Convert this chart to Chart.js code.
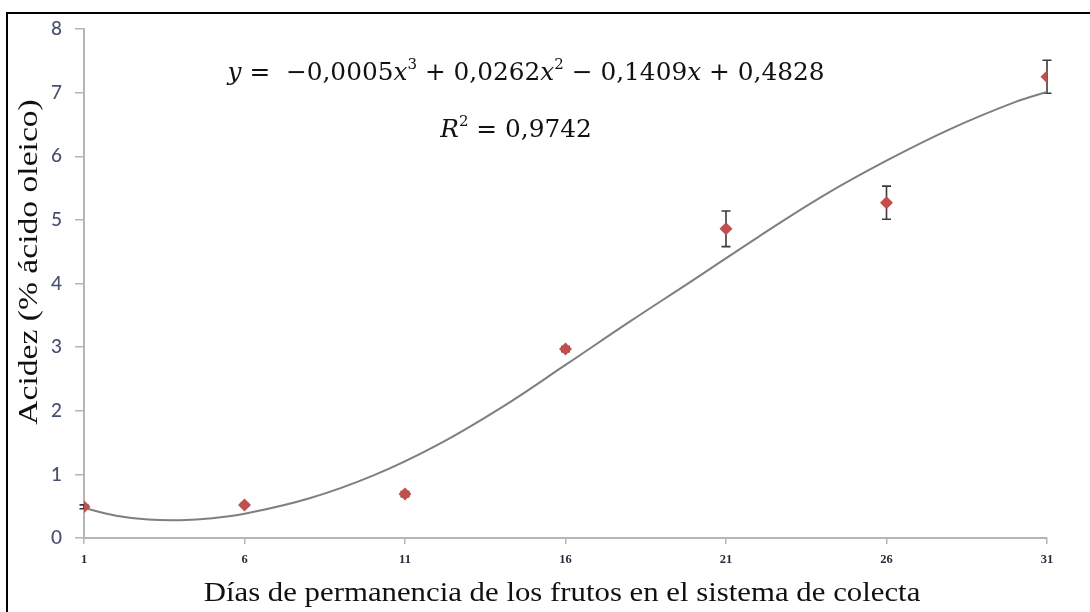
<!DOCTYPE html>
<html>
<head>
<meta charset="utf-8">
<script src="https://cdn.jsdelivr.net/npm/chart.js@4.4.1/dist/chart.umd.min.js"></script>
<style>
  html, body { margin: 0; padding: 0; background: #fff; }
  #wrap { position: relative; width: 1090px; height: 612px; overflow: hidden; }
  #frame { position: absolute; left: 6px; top: 12px; width: 1200px; height: 700px;
           border-left: 2.5px solid #000; border-top: 2.5px solid #000; }
  canvas { position: absolute; left: 0; top: 0; }
  .eq { position: absolute; font-family: "DejaVu Serif", serif; font-size: 24.8px; color: #111;
        white-space: nowrap; transform: translateX(-50%); }
  .eq i { font-style: italic; }
  .eq sup { font-size: 15px; line-height: 0; vertical-align: 11px; }
</style>
</head>
<body>
<div id="wrap">
  <div id="frame"></div>
  <canvas id="grafico" width="1090" height="612"></canvas>
  <div class="eq" style="left:526px; top:57px;"><i>y</i> = &nbsp;−0,0005<i>x</i><sup>3</sup> + 0,0262<i>x</i><sup>2</sup> − 0,1409<i>x</i> + 0,4828</div>
  <div class="eq" style="left:516px; top:114px;"><i>R</i><sup>2</sup> = 0,9742</div>
</div>
<script>
// Dias de permanencia y acidez medida
const dias = [1, 6, 11, 16, 21, 26, 31];
const acidez = [0.49, 0.52, 0.69, 2.97, 4.86, 5.27, 7.25];
const errAcidez = [0.03, 0.02, 0.04, 0.04, 0.28, 0.26, 0.26];

// Linea de tendencia
const curvaX = [1, 2, 3, 4, 5, 6, 8, 10, 12, 14, 16, 18, 20, 22, 24, 26, 28, 30, 31];
const curvaY = [0.47, 0.35, 0.29, 0.28, 0.31, 0.38, 0.62, 0.98, 1.46, 2.05, 2.72, 3.40, 4.06, 4.73, 5.37, 5.93, 6.43, 6.85, 7.01];

const xTicks = [1, 6, 11, 16, 21, 26, 31];
const yTicks = [0, 1, 2, 3, 4, 5, 6, 7, 8];

const tituloX = 'Días de permanencia de los frutos en el sistema de colecta';
const tituloY = 'Acidez (% ácido oleico)';

// barras de error
const errorBars = {
    id: 'errorBars',
    beforeDatasetsDraw(chart) {
        const ctx = chart.ctx;
        const xs = chart.scales.x, ys = chart.scales.y;
        ctx.save();
        ctx.strokeStyle = '#3a3a3a';
        ctx.lineWidth = 1.6;
        dias.forEach((d, i) => {
            const px = xs.getPixelForValue(d);
            const top = ys.getPixelForValue(acidez[i] + errAcidez[i]);
            const bot = ys.getPixelForValue(acidez[i] - errAcidez[i]);
            ctx.beginPath();
            ctx.moveTo(px, top); ctx.lineTo(px, bot);
            ctx.moveTo(px - 4.5, top); ctx.lineTo(px + 4.5, top);
            ctx.moveTo(px - 4.5, bot); ctx.lineTo(px + 4.5, bot);
            ctx.stroke();
        });
        ctx.restore();
    }
};

// titulos de los ejes (el original esta algo estirado a lo largo)
const axisTitles = {
    id: 'axisTitles',
    afterDraw(chart) {
        const ctx = chart.ctx;
        ctx.save();
        ctx.fillStyle = '#111';
        ctx.textAlign = 'center';
        ctx.textBaseline = 'middle';
        ctx.font = '28px "Liberation Serif"';
        ctx.save();
        ctx.translate(562, 594);
        ctx.scale(1.1, 1);
        ctx.fillText(tituloX, 0, 0);
        ctx.restore();
        ctx.translate(30, 262);
        ctx.rotate(-Math.PI / 2);
        ctx.scale(1.2, 1);
        ctx.fillText(tituloY, 0, 0);
        ctx.restore();
    }
};

const ctx = document.getElementById('grafico').getContext('2d');
new Chart(ctx, {
    type: 'scatter',
    data: {
        datasets: [{
            label: 'Acidez',
            data: dias.map((d, i) => ({ x: d, y: acidez[i] })),
            pointStyle: 'rectRot',
            pointRadius: 6.5,
            pointBackgroundColor: '#C0504D',
            pointBorderColor: '#C0504D',
            pointBorderWidth: 0
        }, {
            label: 'Tendencia',
            data: curvaX.map((d, i) => ({ x: d, y: curvaY[i] })),
            showLine: true,
            tension: 0.4,
            pointRadius: 0,
            borderColor: '#7f7f7f',
            borderWidth: 2
        }]
    },
    options: {
        responsive: false,
        animation: false,
        layout: { padding: { top: 29, right: 43, left: 0, bottom: 0 } },
        plugins: {
            legend: { display: false },
            tooltip: { enabled: false }
        },
        scales: {
            x: {
                type: 'linear',
                min: 1,
                max: 31,
                afterBuildTicks: s => { s.ticks = xTicks.map(v => ({ value: v })); },
                afterFit: s => { s.height = 74; },
                border: { color: '#b5b5b5', width: 2 },
                grid: { display: true, drawOnChartArea: false, tickLength: 6, color: '#b5b5b5', lineWidth: 1.5 },
                ticks: {
                    padding: 8,
                    color: '#2b2b3b',
                    font: { family: 'Liberation Serif', size: 12.5, weight: 'bold' }
                }
            },
            y: {
                min: 0,
                max: 8,
                afterBuildTicks: s => { s.ticks = yTicks.map(v => ({ value: v })); },
                afterFit: s => { s.width = 84; },
                border: { color: '#b5b5b5', width: 2 },
                grid: { display: true, drawOnChartArea: false, tickLength: 9, color: '#b5b5b5', lineWidth: 1.5 },
                ticks: {
                    padding: 13,
                    color: '#465070',
                    font: { family: 'Lato', size: 19, weight: '500' }
                }
            }
        }
    },
    plugins: [errorBars, axisTitles]
});
</script>
</body>
</html>
